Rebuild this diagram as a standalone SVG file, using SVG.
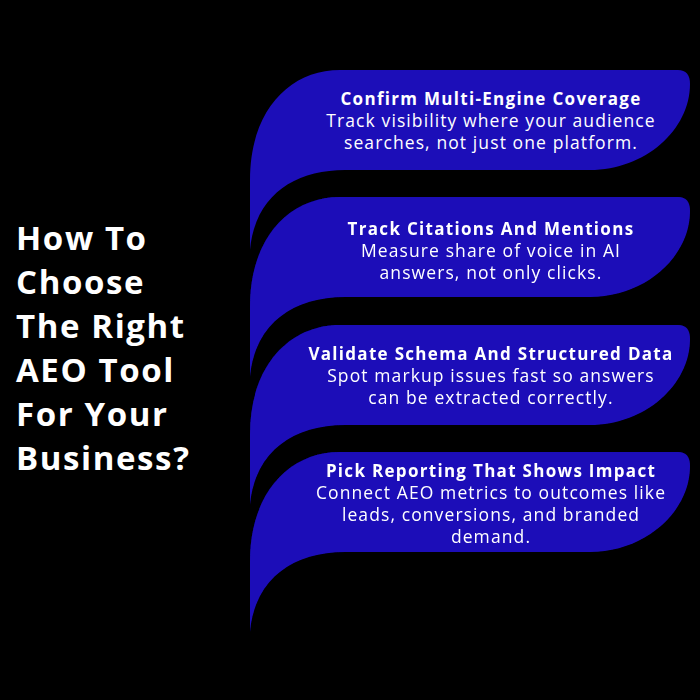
<svg xmlns="http://www.w3.org/2000/svg" width="700" height="700" viewBox="0 0 700 700">
<style>
.card{fill:#1c0eb8}
.t{font-family:"Open Sans","Liberation Sans",sans-serif;fill:#fff;text-anchor:middle}
.h{font-weight:700;font-size:17px;letter-spacing:1.3px}
.b{font-size:17.5px;letter-spacing:1.1px}
.big{font-family:"Open Sans","Liberation Sans",sans-serif;font-weight:700;font-size:33px;fill:#fff;letter-spacing:1.6px}
</style>
<defs>
<path id="shape" d="M250,290 L250,110 C250,40 290,0 340,0 L678,0 Q690,0 690,14 C690,60 645,100 590,100 L345,100 C295,100 255,125 250,180 Z"/>
<filter id="sh" x="-20%" y="-20%" width="140%" height="140%"><feDropShadow dx="-3" dy="-6" stdDeviation="4" flood-color="#000" flood-opacity="0.9"/></filter>
</defs>
<rect width="700" height="700" fill="#000"/>
<g id="heading">
<text class="big" x="16" y="250">How To</text>
<text class="big" x="16" y="294">Choose</text>
<text class="big" x="16" y="338">The Right</text>
<text class="big" x="16" y="382">AEO Tool</text>
<text class="big" x="16" y="426">For Your</text>
<text class="big" x="16" y="470">Business?</text>
</g>
<g id="card1" transform="translate(0,70)"><use href="#shape" class="card"/>
<text class="t h" x="491" y="35">Confirm Multi-Engine Coverage</text>
<text class="t b" x="491" y="57">Track visibility where your audience</text>
<text class="t b" x="491" y="79">searches, not just one platform.</text></g>
<g id="card2" transform="translate(0,197)" filter="url(#sh)"><use href="#shape" class="card"/>
<text class="t h" x="491" y="38">Track Citations And Mentions</text>
<text class="t b" x="491" y="60">Measure share of voice in AI</text>
<text class="t b" x="491" y="82">answers, not only clicks.</text></g>
<g id="card3" transform="translate(0,325)" filter="url(#sh)"><use href="#shape" class="card"/>
<text class="t h" x="491" y="35">Validate Schema And Structured Data</text>
<text class="t b" x="491" y="57">Spot markup issues fast so answers</text>
<text class="t b" x="491" y="79">can be extracted correctly.</text></g>
<g id="card4" transform="translate(0,452)" filter="url(#sh)"><use href="#shape" class="card"/>
<text class="t h" x="491" y="25">Pick Reporting That Shows Impact</text>
<text class="t b" x="491" y="47">Connect AEO metrics to outcomes like</text>
<text class="t b" x="491" y="69">leads, conversions, and branded</text>
<text class="t b" x="491" y="91">demand.</text></g>
</svg>
